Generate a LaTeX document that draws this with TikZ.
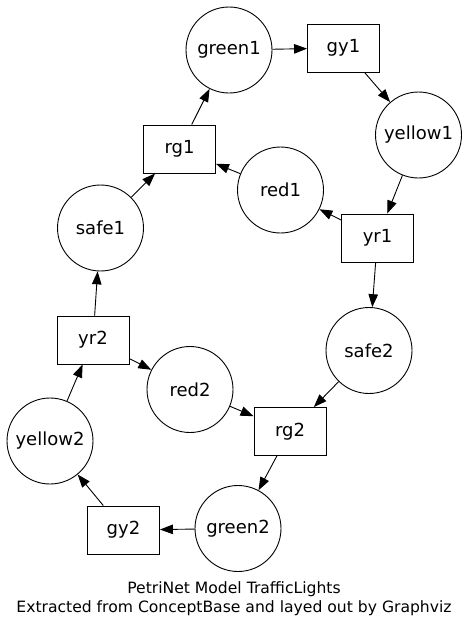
\documentclass[tikz,border=0pt]{standalone}
\usepackage{fontspec}
\setmainfont{DejaVu Sans}
\usetikzlibrary{arrows.meta}
\begin{document}
\begin{tikzpicture}[x=1pt,y=-1pt,
  place/.style={draw,circle,line width=0.9pt,minimum size=86pt,inner sep=0pt,font=\fontsize{18}{20}\selectfont},
  trans/.style={draw,rectangle,line width=0.9pt,minimum width=72pt,minimum height=48pt,inner sep=0pt,font=\fontsize{18}{20}\selectfont},
  arc/.style={line width=0.9pt,-{Triangle[length=13pt,width=9.5pt]}},
  captext/.style={font=\fontsize{15.6}{19}\selectfont,align=center}]
\useasboundingbox (0,0) rectangle (468,630);
\node[place] (green1) at (229,50) {green1};
\node[trans] (gy1) at (343.5,48) {gy1};
\node[place] (yellow1) at (418.5,135) {yellow1};
\node[trans] (rg1) at (179.5,149) {rg1};
\node[place] (red1) at (280.5,190) {red1};
\node[trans] (yr1) at (377.5,238) {yr1};
\node[place] (safe1) at (100.5,228) {safe1};
\node[place] (safe2) at (369,350.5) {safe2};
\node[trans] (yr2) at (93,340) {yr2};
\node[place] (red2) at (190,389.5) {red2};
\node[trans] (rg2) at (290,431.5) {rg2};
\node[place] (yellow2) at (50,441) {yellow2};
\node[trans] (gy2) at (123.5,530) {gy2};
\node[place] (green2) at (238,528.5) {green2};
\node[captext] (caption) at (234,599) {PetriNet Model TrafficLights\\Extracted from ConceptBase and layed out by Graphviz};
\draw[arc] (green1) -- (gy1);
\draw[arc] (gy1) -- (yellow1);
\draw[arc] (yellow1) -- (yr1);
\draw[arc] (yr1) -- (red1);
\draw[arc] (red1) -- (rg1);
\draw[arc] (rg1) -- (green1);
\draw[arc] (yr1) -- (safe2);
\draw[arc] (safe2) -- (rg2);
\draw[arc] (safe1) -- (rg1);
\draw[arc] (yr2) -- (safe1);
\draw[arc] (yr2) -- (red2);
\draw[arc] (red2) -- (rg2);
\draw[arc] (rg2) -- (green2);
\draw[arc] (green2) -- (gy2);
\draw[arc] (gy2) -- (yellow2);
\draw[arc] (yellow2) -- (yr2);
\end{tikzpicture}
\end{document}
